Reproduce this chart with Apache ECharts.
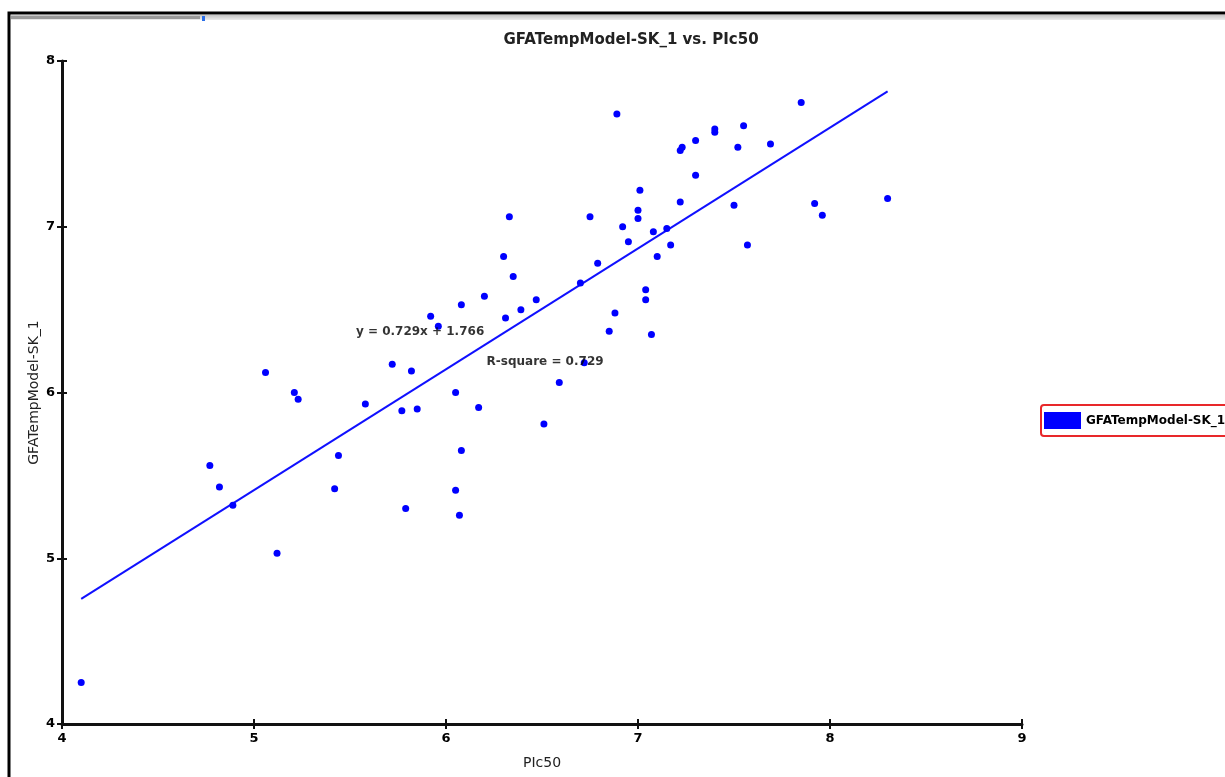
<!DOCTYPE html>
<html>
<head>
<meta charset="utf-8">
<script src="https://cdn.jsdelivr.net/npm/echarts@6/dist/echarts.min.js"></script>
<style>
  html, body { margin: 0; padding: 0; background: #fff; }
  #chart { width: 1225px; height: 777px; }
</style>
</head>
<body>
<div id="chart"></div>
<script>
  // observed values: Plc50 (x) vs GFATempModel-SK_1 (y)
  var plc50 = [4.10, 4.77, 4.82, 4.89, 5.06, 5.12, 5.21, 5.23, 5.42, 5.44,
    5.58, 5.72, 5.77, 5.82, 5.79, 5.85, 5.92, 5.96, 6.05, 6.05,
    6.07, 6.08, 6.08, 6.17, 6.20, 6.30, 6.31, 6.33, 6.35, 6.39,
    6.47, 6.51, 6.59, 6.70, 6.72, 6.75, 6.79, 6.85, 6.88, 6.89,
    6.92, 6.95, 7.00, 7.00, 7.01, 7.04, 7.04, 7.07, 7.08, 7.10,
    7.15, 7.17, 7.22, 7.22, 7.23, 7.30, 7.30, 7.40, 7.40, 7.50,
    7.52, 7.55, 7.57, 7.69, 7.85, 7.92, 7.96, 8.30];
  var gfaModel = [4.25, 5.56, 5.43, 5.32, 6.12, 5.03, 6.00, 5.96, 5.42, 5.62,
    5.93, 6.17, 5.89, 6.13, 5.30, 5.90, 6.46, 6.40, 6.00, 5.41,
    5.26, 5.65, 6.53, 5.91, 6.58, 6.82, 6.45, 7.06, 6.70, 6.50,
    6.56, 5.81, 6.06, 6.66, 6.18, 7.06, 6.78, 6.37, 6.48, 7.68,
    7.00, 6.91, 7.10, 7.05, 7.22, 6.62, 6.56, 6.35, 6.97, 6.82,
    6.99, 6.89, 7.15, 7.46, 7.48, 7.52, 7.31, 7.59, 7.57, 7.13,
    7.48, 7.61, 6.89, 7.50, 7.75, 7.14, 7.07, 7.17];

  // regression shown on the chart
  var slope = 0.729;
  var intercept = 1.766;
  var rSquare = 0.729;
  var eqLabelAt = [5.865, 6.365];
  var r2LabelAt = [6.516, 6.184];

  var seriesName = 'GFATempModel-SK_1';
  var xTicks = [4, 5, 6, 7, 8, 9];
  var yTicks = [4, 5, 6, 7, 8];

  var points = plc50.map(function (x, i) { return [x, gfaModel[i]]; });
  var xMin = Math.min.apply(null, plc50);
  var xMax = Math.max.apply(null, plc50);
  var fitLine = [[xMin, slope * xMin + intercept], [xMax, slope * xMax + intercept]];

  var chart = echarts.init(document.getElementById('chart'));
  var bold12 = { color: '#000', fontSize: 12, fontWeight: 'bold', fontFamily: 'DejaVu Sans' };
  var tickFont = { color: '#000', fontSize: 13, fontWeight: 'bold', fontFamily: 'DejaVu Sans' };

  var option = {
    backgroundColor: '#fff',
    animation: false,
    title: {
      text: 'GFATempModel-SK_1 vs. PIc50',
      left: 626, top: 28, textAlign: 'center',
      textStyle: { color: '#222', fontSize: 15, fontWeight: 'bold', fontFamily: 'DejaVu Sans' }
    },
    legend: {
      data: [seriesName],
      left: 1041, top: 405,
      orient: 'vertical',
      icon: 'rect',
      itemWidth: 37, itemHeight: 17,
      itemStyle: { color: '#0000ff', opacity: 1 },
      padding: [7, 3, 7, 3],
      borderColor: '#e8282a', borderWidth: 2, borderRadius: 3,
      textStyle: bold12,
      selectedMode: false
    },
    grid: { left: 62, right: 203, top: 61, bottom: 53 },
    xAxis: [{
      type: 'value', min: xTicks[0], max: xTicks[xTicks.length - 1], interval: 1,
      position: 'bottom',
      name: 'PIc50', nameLocation: 'middle', nameGap: 32,
      nameTextStyle: { color: '#222', fontSize: 14, fontFamily: 'DejaVu Sans' },
      axisLine: { lineStyle: { color: '#111', width: 3 } },
      axisTick: { inside: false, length: 5, lineStyle: { color: '#111', width: 2 } },
      axisLabel: Object.assign({ margin: 8 }, tickFont),
      splitLine: { show: false }
    }, {
      type: 'value', min: xTicks[0], max: xTicks[xTicks.length - 1], interval: 1,
      position: 'bottom',
      axisLine: { show: false },
      axisTick: { inside: true, length: 5, lineStyle: { color: '#111', width: 2 } },
      axisLabel: { show: false },
      splitLine: { show: false }
    }],
    yAxis: [{
      type: 'value', min: yTicks[0], max: yTicks[yTicks.length - 1], interval: 1,
      position: 'left',
      name: seriesName, nameLocation: 'middle', nameGap: 21, nameRotate: 90,
      nameMoveOverlap: false,
      nameTextStyle: { color: '#222', fontSize: 14, fontFamily: 'DejaVu Sans' },
      axisLine: { lineStyle: { color: '#111', width: 3 } },
      axisTick: { inside: false, length: 5, lineStyle: { color: '#111', width: 2 } },
      axisLabel: Object.assign({ margin: 7 }, tickFont),
      splitLine: { show: false }
    }, {
      type: 'value', min: yTicks[0], max: yTicks[yTicks.length - 1], interval: 1,
      position: 'left',
      axisLine: { show: false },
      axisTick: { inside: true, length: 5, lineStyle: { color: '#111', width: 2 } },
      axisLabel: { show: false },
      splitLine: { show: false }
    }],
    graphic: [
      { type: 'rect', z: 100, shape: { x: 11, y: 15, width: 1214, height: 5 },
        style: { fill: new echarts.graphic.LinearGradient(0, 0, 0, 1, [
          { offset: 0, color: '#c4c4c4' }, { offset: 1, color: '#ececec' }]) } },
      { type: 'rect', z: 101, shape: { x: 11, y: 16, width: 189, height: 3 },
        style: { fill: '#9a9a9a' } },
      { type: 'rect', z: 102, shape: { x: 202, y: 16, width: 3, height: 5 },
        style: { fill: '#2a6ee8' } },
      { type: 'rect', z: 103, shape: { x: 9, y: 13, width: 1400, height: 900 },
        style: { fill: 'none', stroke: '#000', lineWidth: 3 } }
    ],
    series: [{
      name: seriesName,
      type: 'scatter',
      data: points,
      symbol: 'circle',
      symbolSize: 7,
      itemStyle: { color: '#0000ff', opacity: 1 },
      z: 3
    }, {
      name: 'fit',
      type: 'line',
      data: fitLine,
      symbol: 'none',
      lineStyle: { color: '#1010ff', width: 2 },
      silent: true,
      z: 2
    }, {
      name: 'labels',
      type: 'scatter',
      symbolSize: 0,
      silent: true,
      data: [
        { value: eqLabelAt, label: { formatter: 'y = ' + slope.toFixed(3) + 'x + ' + intercept.toFixed(3) } },
        { value: r2LabelAt, label: { formatter: 'R-square = ' + rSquare.toFixed(3) } }
      ],
      label: Object.assign({ show: true, position: 'inside', color: '#111' }, bold12),
      z: 4
    }]
  };

  chart.setOption(option);
</script>
</body>
</html>
